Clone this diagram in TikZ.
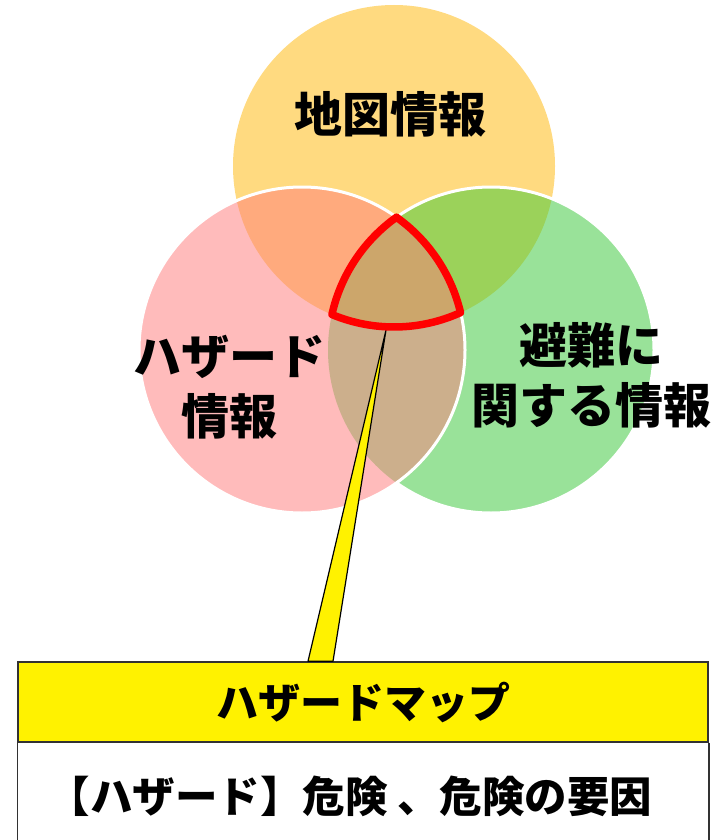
\documentclass[tikz,border=0pt]{standalone}
\usepackage{fontspec}
\setmainfont{Noto Sans CJK JP}
\definecolor{cY}{RGB}{255,218,128}
\definecolor{cP}{RGB}{255,187,187}
\definecolor{cG}{RGB}{153,226,153}
\definecolor{cYP}{RGB}{255,170,125}
\definecolor{cYG}{RGB}{155,210,90}
\definecolor{cPG}{RGB}{204,175,140}
\definecolor{cYPG}{RGB}{204,166,107}
\definecolor{cBorder}{RGB}{50,50,50}
\tikzset{
  lbl/.style={inner sep=0pt, align=center, font=\fontsize{48}{60}\selectfont\bfseries},
  edgeline/.style={white, line width=3pt},
}
\begin{document}
\begin{tikzpicture}[x=1pt,y=1pt]
\useasboundingbox (0,0) rectangle (720,-840);
% circles
\coordinate (Yc) at (394,-166);
\coordinate (Pc) at (302,-350);
\coordinate (Gc) at (491,-350);
\fill[cY] (Yc) circle (161pt);
\fill[cG] (Gc) circle (163pt);
\begin{scope}
  \clip (Yc) circle (161pt);
  \fill[cYG] (Gc) circle (163pt);
\end{scope}
\draw[edgeline] (Gc) circle (163pt);
\fill[cP] (Pc) circle (163pt);
\begin{scope}
  \clip (Pc) circle (163pt);
  \fill[cYP] (Yc) circle (161pt);
  \fill[cPG] (Gc) circle (163pt);
  \clip (Gc) circle (163pt);
  \fill[cYPG] (Yc) circle (161pt);
\end{scope}
\draw[edgeline] (Pc) circle (163pt);
% labels
\node[lbl] (map) at (390,-114) {地図情報};
\node[lbl] (haz) at (229,-387) {ハザード\\情報};
\node[lbl] (evac) at (591,-375) {避難に\\関する情報};
% box
\node[draw=cBorder, line width=1.5pt, fill=yellow, minimum width=690pt, minimum height=80pt, inner sep=0pt,
      font=\fontsize{42}{50}\selectfont\bfseries] (head) at (363,-702) {ハザードマップ};
\draw[cBorder, line width=1.5pt] (head.south west) -- ++(0,-110) (head.south east) -- ++(0,-110);
\node[inner sep=0pt, font=\fontsize{42.5}{50}\selectfont\bfseries] (desc) at (350,-796) {【ハザード】危険 、危険の要因};
% callout wedge
\coordinate (tip) at (386,-330);
\draw[fill=yellow, line width=1.2pt, line join=round] (tip) -- ([xshift=-55pt]head.north) -- ([xshift=-30pt]head.north) -- cycle;
% red outline of the triple overlap
\draw[red, line width=7.5pt, line join=round]
  (396.5,-217.2) arc[start angle=125.43, end angle=167.42, radius=163pt]
  arc[start angle=247.3, end angle=294.4, radius=161pt]
  arc[start angle=13.27, end angle=54.57, radius=163pt] -- cycle;
\end{tikzpicture}
\end{document}
